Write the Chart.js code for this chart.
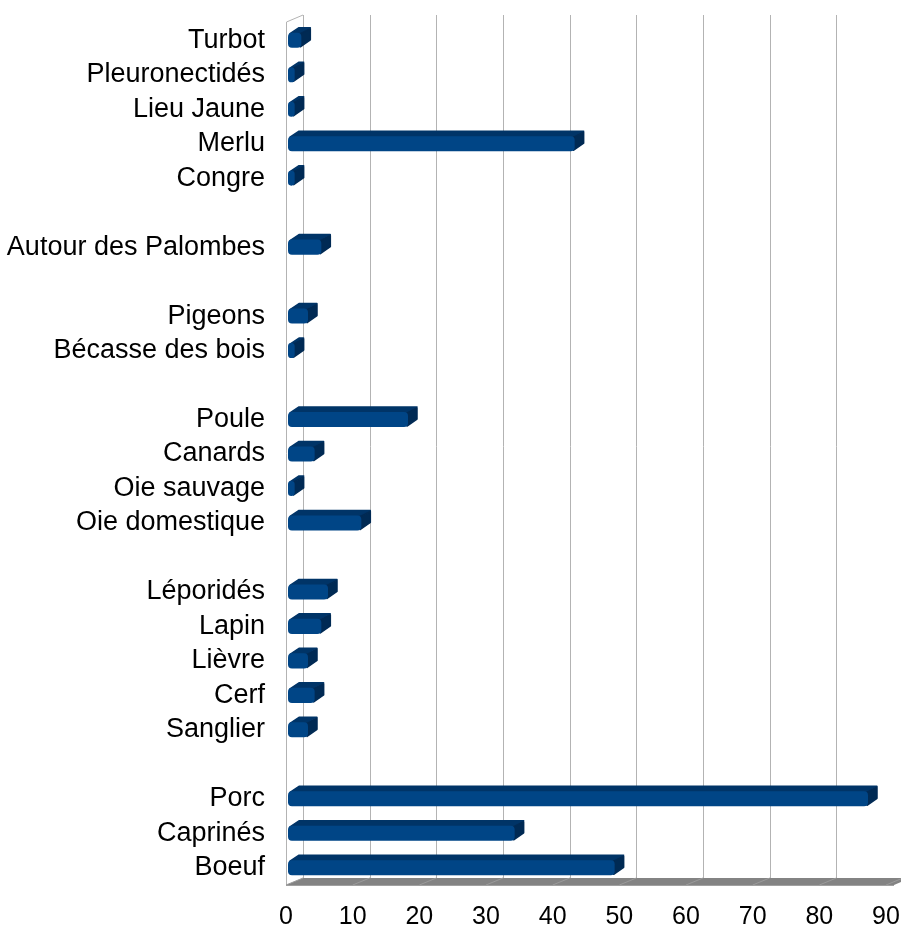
<!DOCTYPE html>
<html>
<head>
<meta charset="utf-8">
<script src="https://cdn.jsdelivr.net/npm/chart.js@4/dist/chart.umd.min.js"></script>
<style>
  body { margin: 0; background: #fff; }
  canvas { display: block; }
</style>
</head>
<body>
<canvas id="canvas1" width="901" height="931"></canvas>
<script>
// categories from top to bottom, empty strings are the gaps between groups
let categories = [
    'Turbot', 'Pleuronectidés', 'Lieu Jaune', 'Merlu', 'Congre',
    '',
    'Autour des Palombes',
    '',
    'Pigeons', 'Bécasse des bois',
    '',
    'Poule', 'Canards', 'Oie sauvage', 'Oie domestique',
    '',
    'Léporidés', 'Lapin', 'Lièvre', 'Cerf', 'Sanglier',
    '',
    'Porc', 'Caprinés', 'Boeuf'
];

let values = [
    2, 1, 1, 43, 1,
    null,
    5,
    null,
    3, 1,
    null,
    18, 4, 1, 11,
    null,
    6, 5, 3, 4, 3,
    null,
    87, 34, 49
];

let xTicks = [0, 10, 20, 30, 40, 50, 60, 70, 80, 90];

// fake 3D: wall, floor, back grid and bar extrusions
let depth3d = {
    id: 'depth3d',
    beforeDatasetsDraw(chart) {
        let ctx = chart.ctx;
        let a = chart.chartArea;
        let x = chart.scales.x;
        let dx = 17, dy = 7;
        let fb = a.bottom;

        ctx.save();
        ctx.lineWidth = 1;

        // left wall
        ctx.strokeStyle = '#b3b3b3';
        ctx.beginPath();
        ctx.moveTo(a.left + 0.5, fb);
        ctx.lineTo(a.left + 0.5, a.top - 1);
        ctx.lineTo(a.left + dx, a.top - 8);
        ctx.stroke();

        // back grid lines
        xTicks.forEach(v => {
            let px = Math.round(x.getPixelForValue(v) + dx) + 0.5;
            ctx.beginPath();
            ctx.moveTo(px, a.top - 8);
            ctx.lineTo(px, fb - dy);
            ctx.stroke();
        });

        // floor
        let l = x.getPixelForValue(0), r = x.getPixelForValue(90) + 8;
        ctx.fillStyle = '#838383';
        ctx.beginPath();
        ctx.moveTo(l, fb);
        ctx.lineTo(r, fb);
        ctx.lineTo(r + dx, fb - dy);
        ctx.lineTo(l + dx, fb - dy);
        ctx.closePath();
        ctx.fill();
        ctx.strokeStyle = '#a0a0a0';
        ctx.beginPath();
        ctx.moveTo(l, fb + 0.5);
        ctx.lineTo(r, fb + 0.5);
        ctx.stroke();
        ctx.strokeStyle = '#9a9a9a';
        xTicks.forEach(v => {
            let px = x.getPixelForValue(v);
            ctx.beginPath();
            ctx.moveTo(px + dx, fb - dy);
            ctx.lineTo(px, fb);
            ctx.stroke();
        });
        ctx.restore();

        // bars sit a little behind the front edge
        ctx.save();
        ctx.translate(2, 0);

        let bdx = 11, bdy = 6;
        let meta = chart.getDatasetMeta(0);
        ctx.lineJoin = 'round';
        ctx.lineWidth = 1.5;
        meta.data.forEach((bar, i) => {
            if (values[i] == null) return;
            let x0 = bar.base, x1 = bar.x;
            let top = bar.y - bar.height / 2, bot = bar.y + bar.height / 2;
            // top face
            ctx.fillStyle = '#003467';
            ctx.strokeStyle = '#003467';
            ctx.beginPath();
            ctx.moveTo(x0 + 2, top + 1);
            ctx.lineTo(x1 - 1, top + 1);
            ctx.lineTo(x1 + bdx - 2, top - bdy + 1);
            ctx.lineTo(x0 + bdx, top - bdy + 1);
            ctx.closePath();
            ctx.fill();
            ctx.stroke();
            // right face
            ctx.fillStyle = '#002a54';
            ctx.strokeStyle = '#002a54';
            ctx.beginPath();
            ctx.moveTo(x1 - 1, top + 1);
            ctx.lineTo(x1 + bdx - 2, top - bdy + 2);
            ctx.lineTo(x1 + bdx - 2, bot - bdy - 2);
            ctx.lineTo(x1 - 1, bot - 1);
            ctx.closePath();
            ctx.fill();
            ctx.stroke();
        });
    },
    afterDatasetsDraw(chart) {
        chart.ctx.restore();
    }
};

let ctx1 = document.getElementById('canvas1').getContext('2d');

let data = {
    labels: categories,
    datasets: [{
        data: values,
        backgroundColor: function (c) {
            let bar = c.element;
            if (!bar || bar.y == null || isNaN(bar.y)) return '#004586';
            let g = c.chart.ctx.createLinearGradient(0, bar.y - 8, 0, bar.y + 8);
            g.addColorStop(0, '#003e7b');
            g.addColorStop(0.45, '#004c94');
            g.addColorStop(1, '#003a74');
            return g;
        },
        borderWidth: 0,
        borderRadius: 4,
        borderSkipped: false,
        barPercentage: 0.52,
        categoryPercentage: 0.84
    }]
};

let config = {
    type: 'bar',
    data: data,
    plugins: [depth3d],
    options: {
        indexAxis: 'y',
        responsive: false,
        animation: false,
        layout: {
            padding: { top: 23, right: 15, bottom: 0, left: 0 }
        },
        plugins: {
            legend: { display: false },
            tooltip: { enabled: false }
        },
        scales: {
            x: {
                min: 0,
                max: 90,
                grid: { display: false, drawTicks: false },
                border: { display: false },
                afterFit: function (s) {
                    s.height = 46;
                    s.paddingLeft = 0;
                    s.paddingRight = 0;
                },
                ticks: {
                    stepSize: 10,
                    padding: 17,
                    color: '#000',
                    font: { family: 'Liberation Sans', size: 25 }
                }
            },
            y: {
                grid: { display: false, drawTicks: false },
                border: { display: false },
                afterFit: function (s) {
                    s.width = 286;
                    s.paddingTop = 0;
                    s.paddingBottom = 0;
                },
                ticks: {
                    autoSkip: false,
                    padding: 21,
                    color: '#000',
                    font: { family: 'Liberation Sans', size: 27 }
                }
            }
        }
    }
};

let myChart = new Chart(ctx1, config);
</script>
</body>
</html>
